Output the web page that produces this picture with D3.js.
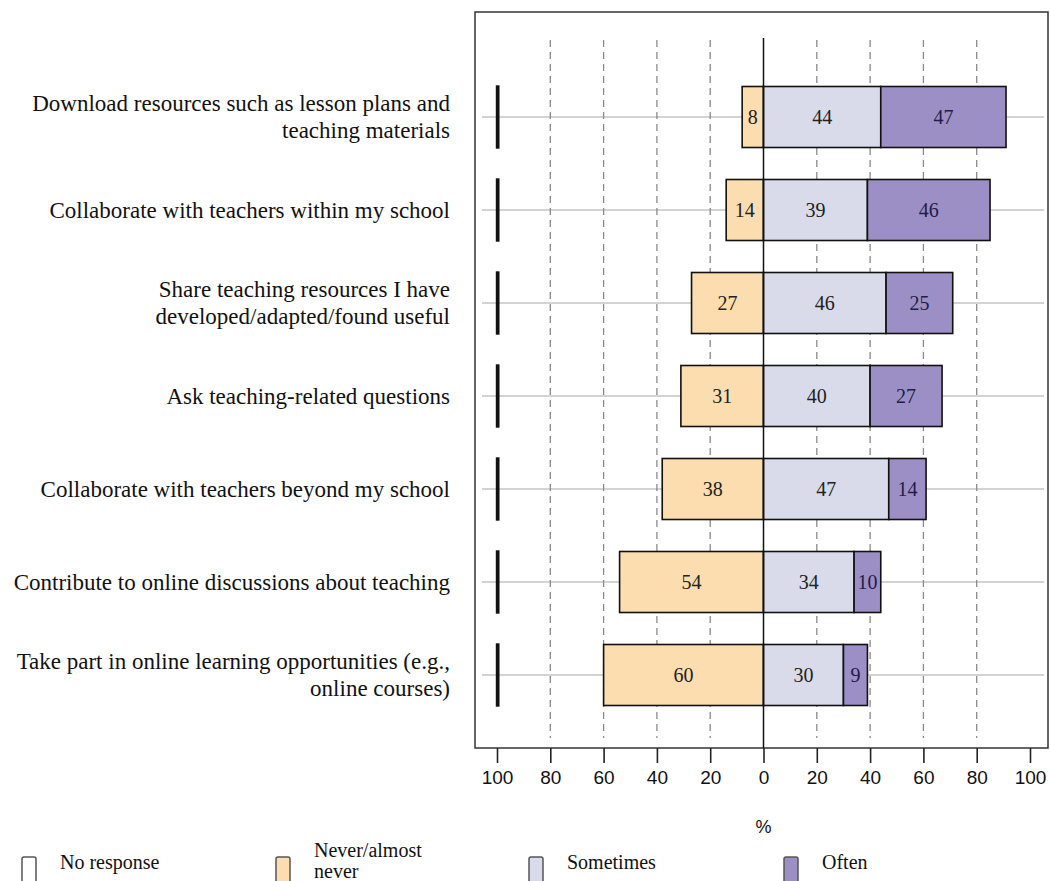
<!DOCTYPE html>
<html><head><meta charset="utf-8">
<script src="https://cdn.jsdelivr.net/npm/d3@7"></script>
<style>body{margin:0;background:#fff}svg{display:block}</style>
</head><body>
<svg id="c" width="1050" height="881"></svg>
<script>
const categories = [
  ["Download resources such as lesson plans and", "teaching materials"],
  ["Collaborate with teachers within my school"],
  ["Share teaching resources I have", "developed/adapted/found useful"],
  ["Ask teaching-related questions"],
  ["Collaborate with teachers beyond my school"],
  ["Contribute to online discussions about teaching"],
  ["Take part in online learning opportunities (e.g.,", "online courses)"]
];
const noResponse = [0.5, 0.5, 0.5, 0.5, 0.5, 0.5, 0.5];
const never = [8, 14, 27, 31, 38, 54, 60];
const sometimes = [44, 39, 46, 40, 47, 34, 30];
const often = [47, 46, 25, 27, 14, 10, 9];
const tickValues = [-100, -80, -60, -40, -20, 0, 20, 40, 60, 80, 100];
const gridValues = [-80, -60, -40, -20, 20, 40, 60, 80];
const legendLabels = [["No response"], ["Never/almost", "never"], ["Sometimes"], ["Often"]];
const colors = {nr: "#ffffff", never: "#FCDDB0", some: "#D9DBEB", often: "#9B8FC6"};

const svg = d3.select("#c");
const x = d3.scaleLinear().domain([-100, 100]).range([497, 1030]);
const bh = 61;
const yc = i => 117 + i * 93;
const serif = "'Liberation Serif','Times New Roman',serif";
const sans = "'Liberation Sans',Arial,sans-serif";

// frame
svg.append("rect").attr("x", 475).attr("y", 12).attr("width", 573).attr("height", 736)
  .attr("fill", "none").attr("stroke", "#333").attr("stroke-width", 1.5);

// horizontal row lines
svg.append("g").selectAll("line").data(categories).join("line")
  .attr("x1", 482).attr("x2", 1044).attr("y1", (d, i) => yc(i)).attr("y2", (d, i) => yc(i))
  .attr("stroke", "#c4c4c4").attr("stroke-width", 1.5);

// dashed gridlines
svg.append("g").selectAll("line").data(gridValues).join("line")
  .attr("x1", d => x(d)).attr("x2", d => x(d)).attr("y1", 40).attr("y2", 738)
  .attr("stroke", "#8a8a8a").attr("stroke-width", 1.3).attr("stroke-dasharray", "7,5");

const rows = categories.map((c, i) => ({i, nr: noResponse[i], nv: never[i], so: sometimes[i], of: often[i]}));
const g = svg.append("g");
rows.forEach(r => {
  const top = yc(r.i) - bh / 2;
  const segs = [
    {x0: -100, x1: -100 + r.nr, fill: colors.nr, label: null, sw: 2.4},
    {x0: -r.nv, x1: 0, fill: colors.never, label: r.nv, tc: "#222", sw: 1.6},
    {x0: 0, x1: r.so, fill: colors.some, label: r.so, tc: "#222", sw: 1.6},
    {x0: r.so, x1: r.so + r.of, fill: colors.often, label: r.of, tc: "#231c45", sw: 1.6}
  ];
  segs.forEach(s => {
    g.append("rect").attr("x", x(s.x0)).attr("y", top).attr("width", x(s.x1) - x(s.x0)).attr("height", bh)
      .attr("fill", s.fill).attr("stroke", "#111").attr("stroke-width", s.sw);
    if (s.label !== null) {
      g.append("text").attr("x", (x(s.x0) + x(s.x1)) / 2).attr("y", yc(r.i)).attr("dy", "0.35em")
        .attr("text-anchor", "middle").attr("font-family", serif)
        .attr("font-size", 20).attr("fill", s.tc).text(s.label);
    }
  });
});
// zero line
svg.append("line").attr("x1", x(0)).attr("x2", x(0)).attr("y1", 38).attr("y2", 748)
  .attr("stroke", "#111").attr("stroke-width", 1.5);

// category labels
const lab = svg.append("g").attr("font-family", serif)
  .attr("font-size", 23).attr("fill", "#111").attr("text-anchor", "end");
categories.forEach((lines, i) => {
  const n = lines.length;
  lines.forEach((t, k) => {
    lab.append("text").attr("x", 450).attr("y", yc(i) + (k - (n - 1) / 2) * 27).attr("dy", "0.33em").text(t);
  });
});

// axis
const axis = d3.axisBottom(x).tickValues(tickValues).tickFormat(d => Math.abs(d)).tickSize(15).tickPadding(8);
const ax = svg.append("g").attr("transform", "translate(0,748)").call(axis);
ax.select(".domain").remove();
ax.selectAll(".tick line").attr("stroke", "#222").attr("stroke-width", 1.6);
ax.selectAll(".tick text").attr("font-family", sans).attr("font-size", 19).attr("fill", "#111");
svg.append("text").attr("x", x(0)).attr("y", 833).attr("text-anchor", "middle")
  .attr("font-family", sans).attr("font-size", 18).attr("fill", "#111").text("%");

// legend
const legX = [22, 276, 529, 784];
const legFill = [colors.nr, colors.never, colors.some, colors.often];
const lg = svg.append("g");
legendLabels.forEach((lines, i) => {
  lg.append("rect").attr("x", legX[i]).attr("y", 857).attr("width", 14).attr("height", 34).attr("rx", 2)
    .attr("fill", legFill[i]).attr("stroke", "#555").attr("stroke-width", 1.5);
  lines.forEach((t, k) => {
    lg.append("text").attr("x", legX[i] + 38).attr("y", (lines.length === 1 ? 869 : 857) + k * 21)
      .attr("font-family", serif).attr("font-size", 20).attr("fill", "#111").text(t);
  });
});
</script>
</body></html>
